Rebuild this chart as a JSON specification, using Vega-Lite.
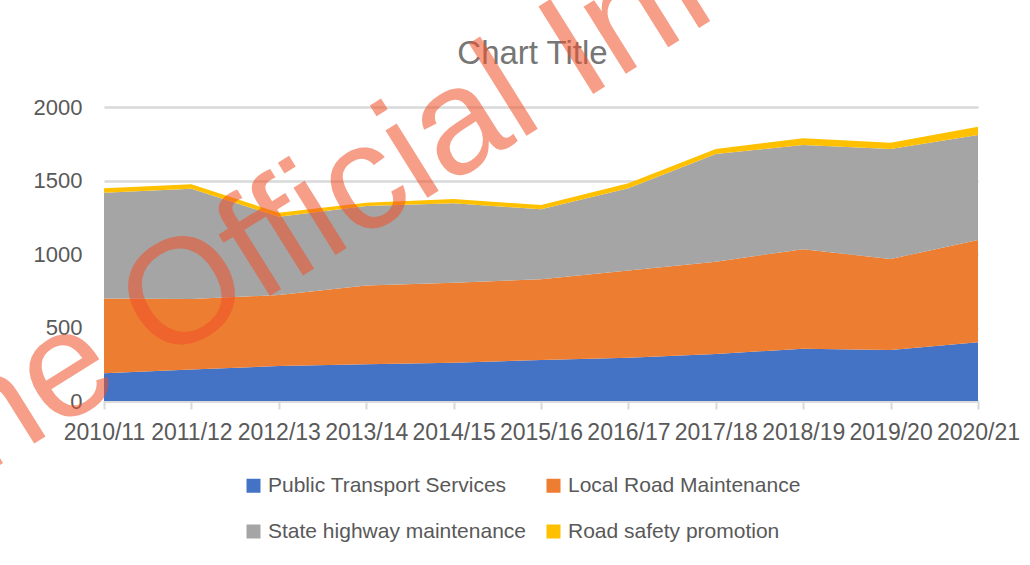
{
  "$schema": "https://vega.github.io/schema/vega-lite/v6.json",
  "width": 874,
  "height": 294,
  "autosize": "none",
  "padding": {"left": 104, "top": 107, "right": 52, "bottom": 164},
  "background": "white",
  "config": {
    "font": "Liberation Sans",
    "view": {"stroke": null},
    "axis": {"labelFont": "Liberation Sans", "labelColor": "#595959", "labelFontSize": 22}
  },
  "datasets": {
    "spend": [
      {"year": "2010/11", "series": "Public Transport Services", "k": 1, "value": 188},
      {"year": "2011/12", "series": "Public Transport Services", "k": 1, "value": 215},
      {"year": "2012/13", "series": "Public Transport Services", "k": 1, "value": 238},
      {"year": "2013/14", "series": "Public Transport Services", "k": 1, "value": 250},
      {"year": "2014/15", "series": "Public Transport Services", "k": 1, "value": 261},
      {"year": "2015/16", "series": "Public Transport Services", "k": 1, "value": 279},
      {"year": "2016/17", "series": "Public Transport Services", "k": 1, "value": 294},
      {"year": "2017/18", "series": "Public Transport Services", "k": 1, "value": 320},
      {"year": "2018/19", "series": "Public Transport Services", "k": 1, "value": 355},
      {"year": "2019/20", "series": "Public Transport Services", "k": 1, "value": 347},
      {"year": "2020/21", "series": "Public Transport Services", "k": 1, "value": 400},
      {"year": "2010/11", "series": "Local Road Maintenance", "k": 2, "value": 510},
      {"year": "2011/12", "series": "Local Road Maintenance", "k": 2, "value": 479},
      {"year": "2012/13", "series": "Local Road Maintenance", "k": 2, "value": 483},
      {"year": "2013/14", "series": "Local Road Maintenance", "k": 2, "value": 535},
      {"year": "2014/15", "series": "Local Road Maintenance", "k": 2, "value": 544},
      {"year": "2015/16", "series": "Local Road Maintenance", "k": 2, "value": 549},
      {"year": "2016/17", "series": "Local Road Maintenance", "k": 2, "value": 593},
      {"year": "2017/18", "series": "Local Road Maintenance", "k": 2, "value": 628},
      {"year": "2018/19", "series": "Local Road Maintenance", "k": 2, "value": 677},
      {"year": "2019/20", "series": "Local Road Maintenance", "k": 2, "value": 619},
      {"year": "2020/21", "series": "Local Road Maintenance", "k": 2, "value": 695},
      {"year": "2010/11", "series": "State highway maintenance", "k": 3, "value": 719},
      {"year": "2011/12", "series": "State highway maintenance", "k": 3, "value": 750},
      {"year": "2012/13", "series": "State highway maintenance", "k": 3, "value": 533},
      {"year": "2013/14", "series": "State highway maintenance", "k": 3, "value": 542},
      {"year": "2014/15", "series": "State highway maintenance", "k": 3, "value": 540},
      {"year": "2015/16", "series": "State highway maintenance", "k": 3, "value": 476},
      {"year": "2016/17", "series": "State highway maintenance", "k": 3, "value": 560},
      {"year": "2017/18", "series": "State highway maintenance", "k": 3, "value": 732},
      {"year": "2018/19", "series": "State highway maintenance", "k": 3, "value": 709},
      {"year": "2019/20", "series": "State highway maintenance", "k": 3, "value": 748},
      {"year": "2020/21", "series": "State highway maintenance", "k": 3, "value": 715},
      {"year": "2010/11", "series": "Road safety promotion", "k": 4, "value": 30},
      {"year": "2011/12", "series": "Road safety promotion", "k": 4, "value": 30},
      {"year": "2012/13", "series": "Road safety promotion", "k": 4, "value": 27},
      {"year": "2013/14", "series": "Road safety promotion", "k": 4, "value": 22},
      {"year": "2014/15", "series": "Road safety promotion", "k": 4, "value": 29},
      {"year": "2015/16", "series": "Road safety promotion", "k": 4, "value": 29},
      {"year": "2016/17", "series": "Road safety promotion", "k": 4, "value": 34},
      {"year": "2017/18", "series": "Road safety promotion", "k": 4, "value": 34},
      {"year": "2018/19", "series": "Road safety promotion", "k": 4, "value": 46},
      {"year": "2019/20", "series": "Road safety promotion", "k": 4, "value": 43},
      {"year": "2020/21", "series": "Road safety promotion", "k": 4, "value": 56}
    ],
    "mark": [
      {"year": "2011/12", "value": 741, "label": "Released under the Official Information Act"}
    ]
  },
  "resolve": {"axis": {"x": "independent"}},
  "layer": [
    {
      "data": {"name": "spend"},
      "mark": {"type": "area", "opacity": 1},
      "encoding": {
        "x": {
          "field": "year",
          "type": "ordinal",
          "scale": {"type": "point", "padding": 0},
          "axis": {
            "orient": "bottom",
            "title": null,
            "labelAngle": 0,
            "labelPadding": 12,
            "labelFontSize": 23,
            "domainColor": "#d9d9d9",
            "domainWidth": 2,
            "tickColor": "#d9d9d9",
            "tickWidth": 2,
            "tickSize": 8,
            "grid": false,
            "labelOverlap": false
          }
        },
        "y": {
          "field": "value",
          "type": "quantitative",
          "stack": "zero",
          "scale": {"domain": [0, 2000], "nice": false},
          "axis": {
            "title": null,
            "values": [0, 500, 1000, 1500, 2000],
            "format": "d",
            "domain": false,
            "ticks": false,
            "labelPadding": 22,
            "gridColor": "#d9d9d9",
            "gridWidth": 2.5
          }
        },
        "color": {
          "field": "series",
          "type": "nominal",
          "scale": {
            "domain": ["Public Transport Services", "Local Road Maintenance", "State highway maintenance", "Road safety promotion"],
            "range": ["#4472c4", "#ed7d31", "#a5a5a5", "#ffc000"]
          },
          "legend": {
            "title": null,
            "orient": "none",
            "direction": "horizontal",
            "legendX": 139,
            "legendY": 368,
            "columns": 2,
            "columnPadding": 17,
            "rowPadding": 24,
            "symbolType": "square",
            "symbolSize": 196,
            "symbolStrokeWidth": 0,
            "labelFontSize": 21,
            "labelColor": "#595959",
            "labelOffset": 4,
            "labelLimit": 0,
            "padding": 0
          }
        },
        "order": {"field": "k", "type": "quantitative"}
      }
    },
    {
      "data": {"name": "mark"},
      "mark": {
        "type": "text",
        "font": "Liberation Sans",
        "fontSize": 150,
        "angle": -32,
        "align": "center",
        "baseline": "middle",
        "color": "#f05028",
        "opacity": 0.55,
        "dx": 8
      },
      "encoding": {
        "x": {
          "field": "year",
          "type": "ordinal",
          "axis": {
            "orient": "top",
            "labels": false,
            "ticks": false,
            "domain": false,
            "grid": false,
            "title": "Chart Title",
            "titleFont": "Liberation Sans",
            "titleFontSize": 33,
            "titleFontWeight": "normal",
            "titleColor": "#767676",
            "titleBaseline": "alphabetic",
            "titlePadding": 44,
            "titleX": 428,
            "titleAlign": "center"
          }
        },
        "y": {"field": "value", "type": "quantitative"},
        "text": {"field": "label"}
      }
    }
  ]
}
